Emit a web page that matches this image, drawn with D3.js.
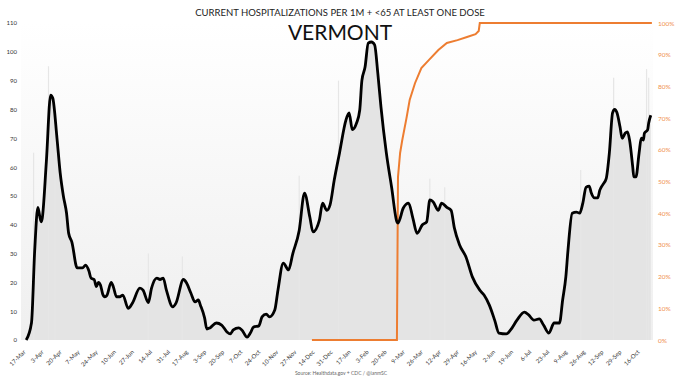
<!DOCTYPE html>
<head>
    <meta charset="utf-8">
    <title>Vermont hospitalizations</title>
    <script src="https://d3js.org/d3.v7.min.js"></script>
    <style>
        body { margin: 0; background: #fff; }
        text { font-family: Lato, "Open Sans", sans-serif; }
    </style>
</head>
<body>
    <div id="my_dataviz"></div>
    <script>
        // hospitalizations per 1M (7 day line)
        var hospDates = [
            "2020-03-20","2020-03-25","2020-03-28","2020-03-31","2020-04-03","2020-04-04","2020-04-08","2020-04-12","2020-04-14","2020-04-18",
            "2020-04-21","2020-04-24","2020-04-27","2020-04-29","2020-05-02","2020-05-07","2020-05-12","2020-05-15","2020-05-18","2020-05-20",
            "2020-05-23","2020-05-25","2020-05-27","2020-05-29","2020-05-31","2020-06-02","2020-06-04","2020-06-08","2020-06-10","2020-06-13",
            "2020-06-16","2020-06-19","2020-06-24","2020-06-28","2020-07-05","2020-07-08","2020-07-13","2020-07-16","2020-07-21","2020-07-24",
            "2020-07-27","2020-07-30","2020-08-05","2020-08-08","2020-08-15","2020-08-18","2020-08-22","2020-08-26","2020-08-29","2020-08-31",
            "2020-09-04","2020-09-06","2020-09-09","2020-09-15","2020-09-20","2020-09-25","2020-09-28","2020-10-01","2020-10-06","2020-10-09",
            "2020-10-14","2020-10-17","2020-10-20","2020-10-25","2020-10-28","2020-11-01","2020-11-04","2020-11-09","2020-11-12","2020-11-17",
            "2020-11-22","2020-11-26","2020-12-02","2020-12-07","2020-12-12","2020-12-15","2020-12-21","2020-12-24","2020-12-28","2020-12-31",
            "2021-01-04","2021-01-09","2021-01-15","2021-01-18","2021-01-21","2021-01-25","2021-01-28","2021-01-30","2021-02-02","2021-02-05",
            "2021-02-08","2021-02-11","2021-02-14","2021-02-17","2021-02-22","2021-02-27","2021-03-04","2021-03-05","2021-03-10","2021-03-15",
            "2021-03-19","2021-03-23","2021-03-28","2021-04-01","2021-04-04","2021-04-07","2021-04-12","2021-04-15","2021-04-20","2021-04-24",
            "2021-04-27","2021-05-02","2021-05-08","2021-05-14","2021-05-21","2021-05-25","2021-05-30","2021-06-04","2021-06-08","2021-06-15",
            "2021-06-19","2021-06-25","2021-07-02","2021-07-06","2021-07-11","2021-07-16","2021-07-20","2021-07-25","2021-07-30","2021-08-04",
            "2021-08-07","2021-08-10","2021-08-12","2021-08-16","2021-08-20","2021-08-23","2021-08-26","2021-08-29","2021-09-01","2021-09-03",
            "2021-09-06","2021-09-09","2021-09-11","2021-09-14","2021-09-17","2021-09-20","2021-09-23","2021-09-25","2021-09-27","2021-09-30",
            "2021-10-02","2021-10-05","2021-10-07","2021-10-09","2021-10-12","2021-10-13","2021-10-15","2021-10-18","2021-10-20","2021-10-22",
            "2021-10-23","2021-10-26","2021-10-27","2021-10-29"
        ];
        var hospValues = [
            0, 6, 31, 46, 41, 42, 62, 85, 84, 70,
            58, 50, 44, 37, 34, 25, 25, 26, 24, 21.5,
            21, 18.5, 20, 19, 16, 15, 15.5, 20, 18.5, 15,
            15, 15.6, 11, 12.8, 18, 17.3, 13, 18, 21.5, 21,
            21.5, 17.3, 11.5, 12.8, 21, 19.8, 16.3, 13.2, 13.9, 12.1,
            7.6, 3.8, 4.2, 5.9, 5.2, 2.8, 2.1, 3.5, 4.2, 3.5,
            1, 2.4, 4.5, 4.9, 8, 9, 8, 10.4, 17.3, 26.7,
            24.3, 30, 38, 51, 42.7, 37.5, 41.6, 47.5, 45, 46.8,
            55.5, 65, 76.3, 78.8, 73, 75.3, 79.8, 90, 94.7, 103,
            103.4, 102.4, 92.6, 80.8, 65, 53, 41, 40.6, 45.8, 47.5,
            42.3, 37, 40, 41, 48.6, 48, 45, 47.5, 46, 45,
            39, 33, 28.8, 21.9, 17.3, 15.6, 12.1, 6.9, 2.4, 2.1,
            3.5, 6.9, 9.7, 8.7, 6.9, 7.3, 5.2, 2.4, 5.9, 5.9,
            13.9, 21.9, 31, 44, 44.4, 44, 47.5, 53, 53.4, 51,
            49.3, 49.3, 52, 54, 56, 65, 78.8, 80, 79, 74,
            70, 71.8, 72.2, 69.4, 60, 56.6, 56.6, 65, 70, 69.4,
            71.8, 72.9, 75.3, 78
        ];

        // single days that stick out above the line (grey daily bars)
        var spikeDates = ["2020-03-27","2020-04-10","2020-04-16","2020-07-13","2020-08-14","2020-12-02","2021-01-08","2021-04-04","2021-04-18","2021-08-24","2021-09-24","2021-10-25","2021-10-27"];
        var spikeValues = [65, 95, 72, 30, 29, 57, 90, 56, 53, 59, 91, 94, 91];

        // share of <65 with at least one dose
        var doseDates = ["2020-12-14","2021-03-04","2021-03-05","2021-03-07","2021-03-09","2021-03-13","2021-03-16","2021-03-21","2021-03-27","2021-04-03",
            "2021-04-12","2021-04-20","2021-04-30","2021-05-09","2021-05-17","2021-05-20","2021-05-21","2021-10-30"];
        var doseValues = [0, 0, 0.514, 0.59, 0.63, 0.70, 0.757, 0.81, 0.858, 0.883,
            0.915, 0.937, 0.946, 0.956, 0.965, 0.975, 1, 1];

        var tickDates = ["2020-03-17","2020-04-03","2020-04-20","2020-05-07","2020-05-24","2020-06-10","2020-06-27","2020-07-14","2020-07-31","2020-08-17",
            "2020-09-03","2020-09-20","2020-10-07","2020-10-24","2020-11-10","2020-11-27","2020-12-14","2020-12-31","2021-01-17","2021-02-03",
            "2021-02-20","2021-03-09","2021-03-26","2021-04-12","2021-04-29","2021-05-16","2021-06-02","2021-06-19","2021-07-06","2021-07-23",
            "2021-08-09","2021-08-26","2021-09-12","2021-09-29","2021-10-16"];
        var leftTicks = [0, 10, 20, 30, 40, 50, 60, 70, 80, 90, 100, 110];
        var rightTicks = [0, 0.1, 0.2, 0.3, 0.4, 0.5, 0.6, 0.7, 0.8, 0.9, 1];

        var parse = d3.utcParse("%Y-%m-%d");
        var hosp = hospDates.map(function (d, i) { return { date: parse(d), value: hospValues[i] }; });
        var spikes = spikeDates.map(function (d, i) { return { date: parse(d), value: spikeValues[i] }; });
        var dose = doseDates.map(function (d, i) { return { date: parse(d), value: doseValues[i] }; });

        var width = 680, height = 383;
        var plot = { left: 21, right: 653, top: 23, bottom: 340 };

        var svg = d3.select("#my_dataviz")
            .append("svg")
            .attr("width", width)
            .attr("height", height);

        var x = d3.scaleUtc()
            .domain([parse("2020-03-17"), parse("2021-10-16")])
            .range([23, 637]);
        var y = d3.scaleLinear().domain([0, 110]).range([plot.bottom, plot.top]);
        var y2 = d3.scaleLinear().domain([0, 1]).range([plot.bottom, plot.top]);

        // background gradient
        var grad = svg.append("defs").append("linearGradient")
            .attr("id", "bg").attr("x1", 0).attr("x2", 0).attr("y1", 0).attr("y2", 1);
        grad.append("stop").attr("offset", "0%").attr("stop-color", "#ffffff");
        grad.append("stop").attr("offset", "100%").attr("stop-color", "#efefef");
        svg.append("rect")
            .attr("x", plot.left).attr("y", plot.top)
            .attr("width", plot.right - plot.left).attr("height", plot.bottom - plot.top)
            .attr("fill", "url(#bg)");

        // grey daily bars (area under the line + single spikes)
        svg.append("path")
            .datum(hosp)
            .attr("fill", "#e4e4e4")
            .attr("d", d3.area()
                .x(function (d) { return x(d.date); })
                .y0(y(0))
                .y1(function (d) { return y(d.value); }));
        svg.selectAll(".spike")
            .data(spikes)
            .enter().append("rect")
            .attr("class", "spike")
            .attr("x", function (d) { return x(d.date) - 0.6; })
            .attr("width", 1.2)
            .attr("y", function (d) { return y(d.value); })
            .attr("height", function (d) { return y(0) - y(d.value); })
            .attr("fill", "#e6e6e6");

        // left axis
        var gl = svg.append("g")
            .attr("transform", "translate(23,0)")
            .call(d3.axisLeft(y).tickValues(leftTicks).tickSize(0).tickPadding(6));
        gl.select(".domain").remove();
        gl.selectAll("text").attr("fill", "#333").style("font-size", "6px");

        // right axis
        var gr = svg.append("g")
            .attr("transform", "translate(652,0)")
            .call(d3.axisRight(y2).tickValues(rightTicks).tickFormat(d3.format(".0%")).tickSize(0).tickPadding(6));
        gr.select(".domain").remove();
        gr.selectAll("text").attr("fill", "#f0904f").style("font-size", "6.5px");

        // x axis
        var gx = svg.append("g")
            .attr("transform", "translate(0," + plot.bottom + ")")
            .call(d3.axisBottom(x).tickValues(tickDates.map(parse)).tickFormat(d3.utcFormat("%-d-%b")).tickSize(0));
        gx.select(".domain").remove();
        gx.selectAll("text")
            .attr("fill", "#333")
            .style("font-size", "6px")
            .style("text-anchor", "end")
            .attr("dy", "0.35em")
            .attr("transform", "translate(1,11) rotate(-45)")
            .attr("y", 0).attr("x", 0);

        // vaccination line
        svg.append("path")
            .datum(dose)
            .attr("fill", "none")
            .attr("stroke", "#ed7d31")
            .attr("stroke-width", 2)
            .attr("d", d3.line()
                .x(function (d) { return x(d.date); })
                .y(function (d) { return y2(d.value); }));

        // hospitalization line
        svg.append("path")
            .datum(hosp)
            .attr("fill", "none")
            .attr("stroke", "#000")
            .attr("stroke-width", 2.8)
            .attr("stroke-linejoin", "round")
            .attr("d", d3.line()
                .curve(d3.curveMonotoneX)
                .x(function (d) { return x(d.date); })
                .y(function (d) { return y(d.value); }));

        // titles
        svg.append("text")
            .attr("x", 340).attr("y", 16)
            .attr("text-anchor", "middle")
            .attr("fill", "#222")
            .style("font-size", "9.5px")
            .text("CURRENT HOSPITALIZATIONS PER 1M + <65 AT LEAST ONE DOSE");
        svg.append("text")
            .attr("x", 340).attr("y", 40)
            .attr("text-anchor", "middle")
            .attr("fill", "#111")
            .style("font-size", "21px")
            .text("VERMONT");
        svg.append("text")
            .attr("x", 341).attr("y", 375)
            .attr("text-anchor", "middle")
            .attr("fill", "#666")
            .style("font-size", "5px")
            .text("Source: Healthdata.gov + CDC / @ianmSC");
    </script>
</body>
</html>
